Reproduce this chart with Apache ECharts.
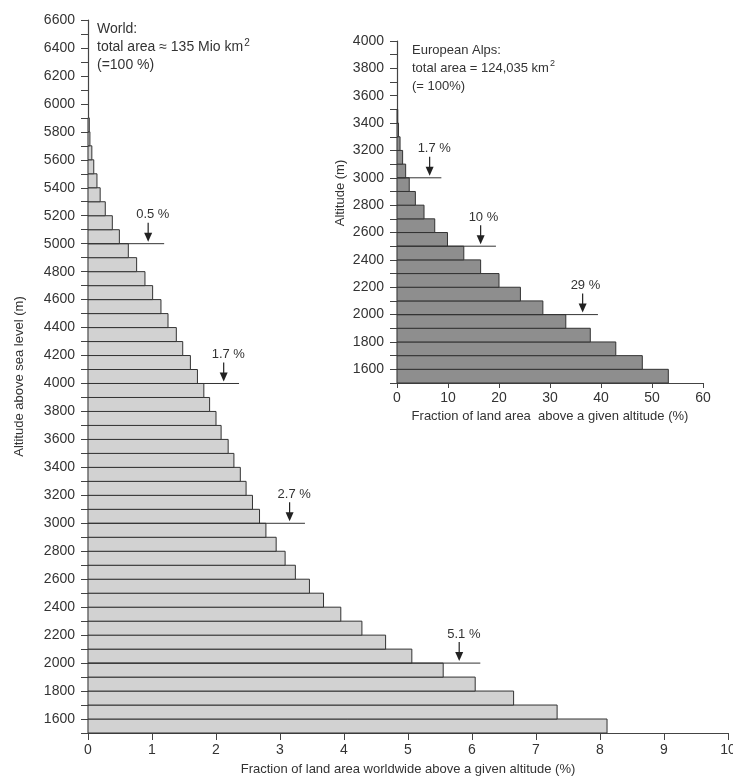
<!DOCTYPE html>
<html>
<head>
<meta charset="utf-8">
<script src="https://cdn.jsdelivr.net/npm/echarts@6/dist/echarts.min.js"></script>
<style>
html, body { margin: 0; background: #fff; }
#chart { width: 733px; height: 780px; }
</style>
</head>
<body>
<div id="chart"></div>
<script>
// lower edge of each 100 m altitude band (m)
var worldBands = [1500, 1600, 1700, 1800, 1900, 2000, 2100, 2200, 2300, 2400,
  2500, 2600, 2700, 2800, 2900, 3000, 3100, 3200, 3300, 3400,
  3500, 3600, 3700, 3800, 3900, 4000, 4100, 4200, 4300, 4400,
  4500, 4600, 4700, 4800, 4900, 5000, 5100, 5200, 5300, 5400,
  5500, 5600, 5700, 5800];
// % of world land area above the band's lower edge
var worldFraction = [8.11, 7.33, 6.65, 6.05, 5.55, 5.06, 4.65, 4.28, 3.95, 3.68,
  3.46, 3.24, 3.08, 2.94, 2.78, 2.68, 2.57, 2.47, 2.38, 2.28,
  2.19, 2.08, 2.0, 1.9, 1.81, 1.71, 1.6, 1.48, 1.38, 1.25,
  1.14, 1.01, 0.89, 0.76, 0.63, 0.49, 0.38, 0.27, 0.19, 0.14,
  0.09, 0.06, 0.03, 0.02];

var alpsBands = [1500, 1600, 1700, 1800, 1900, 2000, 2100, 2200, 2300, 2400,
  2500, 2600, 2700, 2800, 2900, 3000, 3100, 3200, 3300, 3400];
var alpsFraction = [53.2, 48.1, 42.9, 37.9, 33.1, 28.6, 24.2, 20.0, 16.4, 13.1,
  9.9, 7.4, 5.3, 3.6, 2.4, 1.7, 1.1, 0.6, 0.3, 0.15];

// marked altitudes: label, where the line stops and where the arrow sits (in %)
var worldMarkAlt = [5000, 4000, 3000, 2000];
var worldMarkLabel = ['0.5 %', '1.7 %', '2.7 %', '5.1 %'];
var worldMarkEnd = [1.19, 2.36, 3.39, 6.13];
var worldMarkArrow = [0.94, 2.12, 3.15, 5.8];

var alpsMarkAlt = [3000, 2500, 2000];
var alpsMarkLabel = ['1.7 %', '10 %', '29 %'];
var alpsMarkEnd = [8.7, 19.4, 39.4];
var alpsMarkArrow = [6.4, 16.4, 36.4];

var FONT = 'Liberation Sans';
var TXT = '#333';

function bandRenderer(fill) {
  return function (params, api) {
    var lo = api.value(0);
    var p0 = api.coord([0, lo]);
    var p1 = api.coord([api.value(1), lo + 100]);
    return {
      type: 'rect',
      shape: { x: p0[0], y: p1[1], width: p1[0] - p0[0], height: p0[1] - p1[1] },
      style: { fill: fill, stroke: '#333', lineWidth: 1 }
    };
  };
}

function markRenderer(labels) {
  return function (params, api) {
    var alt = api.value(0);
    var s = api.coord([0, alt]);
    var e = api.coord([api.value(1), alt]);
    var a = api.coord([api.value(2), alt]);
    return {
      type: 'group',
      children: [
        { type: 'line', shape: { x1: s[0], y1: s[1], x2: e[0], y2: e[1] }, style: { stroke: '#333', lineWidth: 1 } },
        { type: 'line', shape: { x1: a[0], y1: a[1] - 21, x2: a[0], y2: a[1] - 9 }, style: { stroke: '#222', lineWidth: 1.2 } },
        { type: 'polygon', shape: { points: [[a[0] - 4, a[1] - 11], [a[0] + 4, a[1] - 11], [a[0], a[1] - 2]] }, style: { fill: '#222' } },
        {
          type: 'text', x: a[0] - 12, y: a[1] - 29,
          style: { text: labels[params.dataIndex], fill: TXT, font: '13px "' + FONT + '"', align: 'left', verticalAlign: 'middle' }
        }
      ]
    };
  };
}

function altLabel(v) {
  return v % 200 === 0 ? String(v) : '';
}

var axisLine = { show: true, lineStyle: { color: '#444', width: 1.2 } };
var axisTick = { show: true, length: 7, lineStyle: { color: '#444', width: 1 } };

var chart = echarts.init(document.getElementById('chart'));
chart.setOption({
  animation: false,
  backgroundColor: '#fff',
  grid: [
    { left: 88, right: 5, top: 20, bottom: 47, outerBoundsMode: 'none' },
    { left: 397, top: 41, width: 306, height: 342, outerBoundsMode: 'none' }
  ],
  xAxis: [
    {
      gridIndex: 0, type: 'value', min: 0, max: 10, interval: 1,
      axisLine: axisLine, axisTick: axisTick, splitLine: { show: false },
      axisLabel: { fontFamily: FONT, fontSize: 14, color: TXT, margin: 10 },
      name: 'Fraction of land area worldwide above a given altitude (%)',
      nameLocation: 'middle', nameGap: 30,
      nameTextStyle: { fontFamily: FONT, fontSize: 13, color: TXT }
    },
    {
      gridIndex: 1, type: 'value', min: 0, max: 60, interval: 10,
      axisLine: axisLine, axisTick: { show: true, length: 5, lineStyle: { color: '#444' } }, splitLine: { show: false },
      axisLabel: { fontFamily: FONT, fontSize: 14, color: TXT, margin: 8 },
      name: 'Fraction of land area  above a given altitude (%)',
      nameLocation: 'middle', nameGap: 27,
      nameTextStyle: { fontFamily: FONT, fontSize: 13, color: TXT }
    }
  ],
  yAxis: [
    {
      gridIndex: 0, type: 'value', min: 1500, max: 6600, interval: 100,
      axisLine: axisLine, axisTick: axisTick, splitLine: { show: false },
      axisLabel: { fontFamily: FONT, fontSize: 14, color: TXT, margin: 13, formatter: altLabel },
      name: 'Altitude above sea level (m)',
      nameLocation: 'middle', nameGap: 62,
      nameTextStyle: { fontFamily: FONT, fontSize: 13, color: TXT }
    },
    {
      gridIndex: 1, type: 'value', min: 1500, max: 4000, interval: 100,
      axisLine: axisLine, axisTick: axisTick, splitLine: { show: false },
      axisLabel: { fontFamily: FONT, fontSize: 14, color: TXT, margin: 13, formatter: altLabel }
    }
  ],
  graphic: [
    {
      type: 'text', left: 97, top: 22,
      style: {
        text: '{a|World:}\n{a|total area ≈ 135 Mio km}{s|2}\n{a|(=100 %)}',
        rich: {
          a: { fontFamily: FONT, fontSize: 14, fill: TXT, lineHeight: 18 },
          s: { fontFamily: FONT, fontSize: 10, fill: TXT, lineHeight: 18, verticalAlign: 'top', padding: [0, 0, 0, 1] }
        }
      }
    },
    {
      type: 'text', left: 412, top: 44,
      style: {
        text: '{a|European Alps:}\n{a|total area = 124,035 km}{s|2}\n{a|(= 100%)}',
        rich: {
          a: { fontFamily: FONT, fontSize: 13, fill: TXT, lineHeight: 18 },
          s: { fontFamily: FONT, fontSize: 9, fill: TXT, lineHeight: 18, verticalAlign: 'top', padding: [0, 0, 0, 1] }
        }
      }
    },
    {
      type: 'text', x: 340, y: 193, rotation: Math.PI / 2,
      style: { text: 'Altitude (m)', font: '13px "' + FONT + '"', fill: TXT, align: 'center', verticalAlign: 'middle' }
    }
  ],
  series: [
    {
      type: 'custom', xAxisIndex: 0, yAxisIndex: 0,
      encode: { x: 1, y: 0 },
      renderItem: bandRenderer('#d2d2d2'),
      data: worldBands.map(function (b, i) { return [b, worldFraction[i]]; })
    },
    {
      type: 'custom', xAxisIndex: 0, yAxisIndex: 0, z: 3,
      encode: { x: 1, y: 0 },
      renderItem: markRenderer(worldMarkLabel),
      data: worldMarkAlt.map(function (a, i) { return [a, worldMarkEnd[i], worldMarkArrow[i]]; })
    },
    {
      type: 'custom', xAxisIndex: 1, yAxisIndex: 1,
      encode: { x: 1, y: 0 },
      renderItem: bandRenderer('#8e8e8e'),
      data: alpsBands.map(function (b, i) { return [b, alpsFraction[i]]; })
    },
    {
      type: 'custom', xAxisIndex: 1, yAxisIndex: 1, z: 3,
      encode: { x: 1, y: 0 },
      renderItem: markRenderer(alpsMarkLabel),
      data: alpsMarkAlt.map(function (a, i) { return [a, alpsMarkEnd[i], alpsMarkArrow[i]]; })
    }
  ]
});
</script>
</body>
</html>
